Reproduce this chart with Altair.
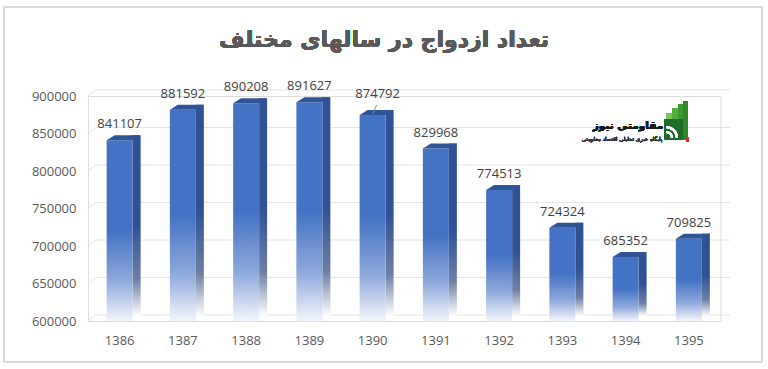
import altair as alt
import pandas as pd

# ---- data ----
years = ["1386", "1387", "1388", "1389", "1390", "1391", "1392", "1393", "1394", "1395"]
values = [841107, 881592, 890208, 891627, 874792, 829968, 774513, 724324, 685352, 709825]
y_ticks = [600000, 650000, 700000, 750000, 800000, 850000, 900000]
moved_label_year = "1390"  # this label sits a little higher, with a leader line
title_text = "تعداد ازدواج در سالهای مختلف"
logo_name = "مقاومتی نیوز"
logo_tagline = "پایگاه خبری تحلیلی اقتصاد مقاومتی"

df = pd.DataFrame({"year": years, "value": values})
grid_df = pd.DataFrame({"tick": y_ticks})

W, H = 632.5, 225
FONT = "Open Sans"
BASE = 600000

x_scale = alt.Scale(domain=years, paddingInner=0.2, paddingOuter=0.1)
y_scale = alt.Scale(domain=[600000, 900000], zero=False, nice=False)

x_axis = alt.Axis(title=None, labelAngle=0, domain=False, ticks=False, grid=False,
                  labelPadding=13, labelFont=FONT, labelFontSize=13, labelColor="#595959")
y_axis = alt.Axis(title=None, values=y_ticks, format="d", domain=False, ticks=False, grid=False,
                  labelPadding=12, labelFont=FONT, labelFontSize=13, labelColor="#595959")

X = alt.X("year:N", scale=x_scale, axis=x_axis)
Yv = alt.Y("value:Q", scale=y_scale, axis=y_axis)

front_grad = alt.Gradient(gradient="linear", x1=0, x2=0, y1=0, y2=1, stops=[
    alt.GradientStop(color="#4472C4", offset=0),
    alt.GradientStop(color="#4472C4", offset=0.5),
    alt.GradientStop(color="#8FAADC", offset=0.78),
    alt.GradientStop(color="#F3F6FC", offset=1),
])
side_grad = alt.Gradient(gradient="linear", x1=0, x2=0, y1=0, y2=1, stops=[
    alt.GradientStop(color="#2F5294", offset=0),
    alt.GradientStop(color="#2F5294", offset=0.5),
    alt.GradientStop(color="#6F80A6", offset=0.8),
    alt.GradientStop(color="#FFFFFF", offset=1),
])

base = alt.Chart(df)

# gridlines (back wall, drawn in perspective)
grid = alt.Chart(grid_df).mark_rule(color="#E4E4E4", strokeWidth=1, yOffset=-6).encode(
    y=alt.Y("tick:Q", scale=y_scale, axis=y_axis),
    x=alt.value(8), x2=alt.value(642),
)
grid_slant = alt.Chart(grid_df).mark_rule(color="#E4E4E4", strokeWidth=1, y2Offset=-6).encode(
    y=alt.Y("tick:Q", scale=y_scale, axis=y_axis),
    y2=alt.Y2("tick:Q"),
    x=alt.value(0), x2=alt.value(8),
)

side = base.mark_bar(size=8, xOffset=17, yOffset=-5, y2Offset=-5, color=side_grad).encode(
    x=X, y=Yv, y2=alt.datum(BASE),
)
front = base.mark_bar(size=26, color=front_grad).encode(
    x=X, y=Yv, y2=alt.datum(BASE),
)
top_face = base.mark_point(
    shape="M -1 0 L 1 0 L 1.615 -0.385 L -0.385 -0.385 Z",
    size=676, filled=True, color="#2F5597", opacity=1, strokeWidth=0,
).encode(x=X, y=Yv)

labels = base.transform_filter(alt.datum.year != moved_label_year).mark_text(
    dy=-16, font=FONT, fontSize=13, color="#404040", baseline="middle").encode(
    x=X, y=Yv, text=alt.Text("value:Q", format="d"),
)
moved_label = base.transform_filter(alt.datum.year == moved_label_year).mark_text(
    dx=5, dy=-21, font=FONT, fontSize=13, color="#404040", baseline="middle").encode(
    x=X, y=Yv, text=alt.Text("value:Q", format="d"),
)
leader = base.transform_filter(alt.datum.year == moved_label_year).mark_rule(
    color="#8C8C8C", strokeWidth=1, xOffset=4, yOffset=-10, x2Offset=0, y2Offset=-1).encode(
    x=X, y=Yv, x2=alt.X2("year:N"), y2=alt.Y2("value:Q"),
)

# title as text (centered on the whole 768px frame)
title = alt.Chart(df).mark_text(text=title_text, font="DejaVu Sans", fontWeight="bold",
                                fontSize=22, color="#595959", align="center",
                                baseline="middle").encode(x=alt.value(296), y=alt.value(-56))

# logo (decorative)
logo_bars = [
    alt.Chart(df).mark_rect(color=c).encode(x=alt.value(x1), x2=alt.value(x2), y=alt.value(y1), y2=alt.value(y2))
    for (x1, x2, y1, y2, c) in [
        (578, 584, 17, 44, "#7CC35A"),
        (584, 590, 12, 44, "#4FAF3A"),
        (590, 595, 8, 44, "#3A9A2E"),
        (595, 600, 5, 44, "#2E8A27"),
    ]
]
logo_block = alt.Chart(df).mark_rect(color="#1F6B2A").encode(
    x=alt.value(576), x2=alt.value(595), y=alt.value(23), y2=alt.value(44))
logo_wifi = alt.Chart(df).mark_arc(color="white", theta=0, theta2=1.5708, radius=12,
                                   radius2=10).encode(x=alt.value(578), y=alt.value(42))
logo_wifi2 = alt.Chart(df).mark_arc(color="white", theta=0, theta2=1.5708, radius=7,
                                    radius2=5).encode(x=alt.value(578), y=alt.value(42))
logo_red = alt.Chart(df).mark_rect(color="#D32F2F").encode(
    x=alt.value(598), x2=alt.value(601), y=alt.value(41), y2=alt.value(46))
logo_t1 = alt.Chart(df).mark_text(text=logo_name, font="DejaVu Sans", fontWeight="bold",
                                   fontSize=10.5, color="#1A1A1A", align="center",
                                   baseline="middle").encode(x=alt.value(540), y=alt.value(30))
logo_t2 = alt.Chart(df).mark_text(text=logo_tagline, font="DejaVu Sans",
                                   fontSize=5.5, color="#333333", align="center",
                                   baseline="middle").encode(x=alt.value(534), y=alt.value(43))

border = alt.Chart(df).mark_rect(fillOpacity=0, stroke="#D9D9D9", strokeWidth=1).encode(
    x=alt.value(-84), x2=alt.value(674), y=alt.value(-89), y2=alt.value(266))

chart = alt.layer(
    grid_slant, grid, side, front, top_face, labels, moved_label, leader, title,
    *logo_bars, logo_block, logo_wifi, logo_wifi2, logo_red, logo_t1, logo_t2, border,
).properties(
    width=W, height=H,
    padding={"left": 88, "top": 96, "right": 47.5, "bottom": 48},
    autosize=alt.AutoSizeParams(type="none"),
).configure_view(stroke=None).configure(background="white")

chart.save("out.html", embed_options={"renderer": "svg", "actions": False})
